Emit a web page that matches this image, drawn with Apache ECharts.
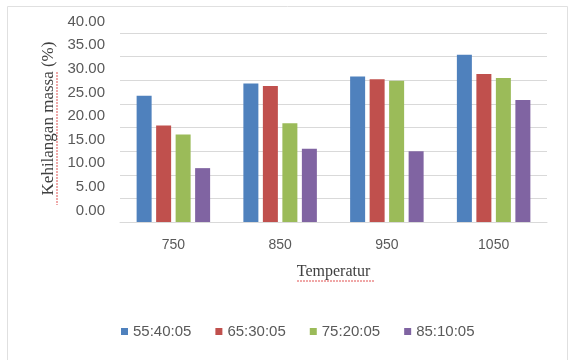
<!DOCTYPE html>
<html>
<head>
<meta charset="utf-8">
<script src="https://cdn.jsdelivr.net/npm/echarts@6/dist/echarts.min.js"></script>
<style>
  html, body { margin: 0; padding: 0; background: #fff; }
  #main { width: 570px; height: 360px; }
</style>
</head>
<body>
<div id="main"></div>
<script>
// data
const temperatures = ['750', '850', '950', '1050'];
const seriesNames = ['55:40:05', '65:30:05', '75:20:05', '85:10:05'];
const s55 = [26.7, 29.3, 30.8, 35.4];
const s65 = [20.4, 28.8, 30.2, 31.3];
const s75 = [18.5, 20.9, 29.9, 30.5];
const s85 = [11.4, 15.5, 15.0, 25.8];
const yTicks = [0, 5, 10, 15, 20, 25, 30, 35, 40];

const colors = ['#4F81BD', '#C0504D', '#9BBB59', '#8064A2'];
const values = [s55, s65, s75, s85];

let chart = echarts.init(document.getElementById('main'), null, { renderer: 'canvas' });

let option = {
  animation: false,
  backgroundColor: '#fff',
  color: colors,
  grid: { left: 120, right: 23, top: 33, bottom: 138, containLabel: false },
  legend: {
    data: seriesNames,
    left: 116,
    top: 319,
    icon: 'rect',
    itemWidth: 7,
    itemHeight: 7,
    itemGap: 24,
    textStyle: { fontFamily: 'Liberation Sans', fontSize: 15, color: '#595959' }
  },
  xAxis: {
    type: 'category',
    data: temperatures,
    name: 'Temperatur',
    nameLocation: 'middle',
    nameGap: 42,
    nameTextStyle: { fontFamily: 'Liberation Serif', fontSize: 16, color: '#404040' },
    axisLine: { lineStyle: { color: '#d9d9d9' } },
    axisTick: { show: false },
    axisLabel: { margin: 16, fontFamily: 'Liberation Sans', fontSize: 14, color: '#595959' }
  },
  yAxis: {
    type: 'value',
    min: yTicks[0],
    max: yTicks[yTicks.length - 1],
    interval: 5,
    name: 'Kehilangan massa (%)',
    nameLocation: 'middle',
    nameGap: 63,
    nameTextStyle: { fontFamily: 'Liberation Serif', fontSize: 17, color: '#404040', padding: [0, 0, 0, 18] },
    axisLine: { show: false },
    axisTick: { show: false },
    splitLine: { lineStyle: { color: '#d9d9d9' } },
    axisLabel: {
      margin: 15,
      fontFamily: 'Liberation Sans',
      fontSize: 15,
      color: '#595959',
      verticalAlign: 'bottom',
      lineHeight: 23,
      showMinLabel: true,
      showMaxLabel: true,
      hideOverlap: false,
      formatter: v => v.toFixed(2)
    }
  },
  series: seriesNames.map((name, i) => ({
    name: name,
    type: 'bar',
    data: values[i],
    barWidth: 15,
    barGap: '30%',
    itemStyle: { color: colors[i] }
  })),
  graphic: [
    {
      type: 'rect',
      shape: { x: 7.5, y: 6.5, width: 560, height: 360 },
      style: { fill: null, stroke: '#e0e0e0', lineWidth: 1 },
      silent: true
    },
    {
      type: 'line',
      shape: { x1: 297, y1: 281, x2: 375, y2: 281 },
      style: { stroke: '#e05050', lineWidth: 1, lineDash: [2, 1] },
      silent: true
    },
    {
      type: 'line',
      shape: { x1: 57, y1: 72, x2: 57, y2: 205 },
      style: { stroke: '#e05050', lineWidth: 1, lineDash: [2, 1] },
      silent: true
    }
  ]
};

chart.setOption(option);
</script>
</body>
</html>
